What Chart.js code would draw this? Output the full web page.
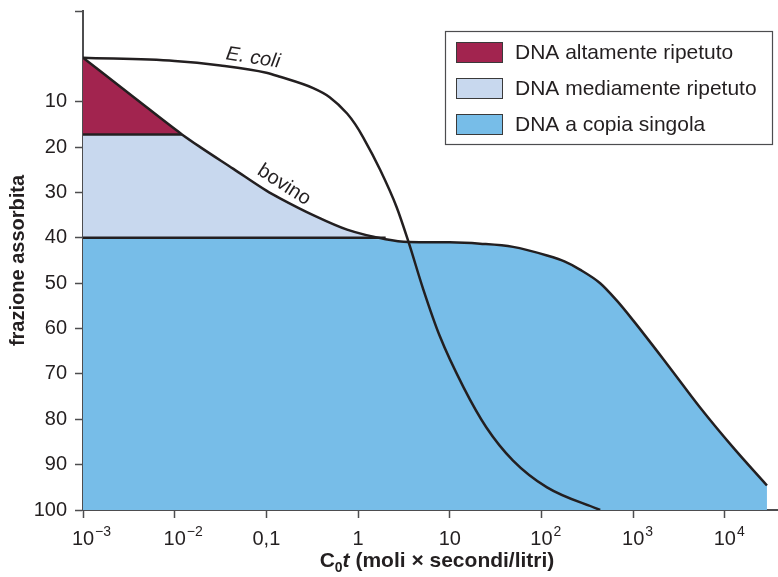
<!DOCTYPE html>
<html>
<head>
<meta charset="utf-8">
<script src="https://cdn.jsdelivr.net/npm/chart.js@4.4.1/dist/chart.umd.min.js"></script>
<style>
  html, body { margin: 0; padding: 0; background: #fff; }
  canvas { display: block; }
</style>
</head>
<body>
<canvas id="chart" width="778" height="577"></canvas>
<script>
// --- data ---
const xTickValues = [0.001, 0.01, 0.1, 1, 10, 100, 1000, 10000];
const xTickLabels = ['10^\u22123', '10^\u22122', '0,1', '1', '10', '10^2', '10^3', '10^4'];
const yTickLabels = [10, 20, 30, 40, 50, 60, 70, 80, 90, 100];

const seriesNames = ['DNA altamente ripetuto', 'DNA mediamente ripetuto', 'DNA a copia singola'];

// bovine curve (C0t, fraction reassociated %)
const bovinoCot = [0.001, 0.00347, 0.012, 0.019, 0.0437, 0.1, 0.141, 0.324, 0.759, 2.0, 3.55, 10, 21.4, 49, 115, 178, 263, 437, 661, 1000, 2340, 5370, 12300, 28800];
const bovinoFraz = [0.3, 8.8, 17.2, 20.0, 24.8, 29.6, 31.3, 35.0, 38.2, 40.3, 40.9, 41.0, 41.3, 42.0, 43.9, 45.2, 47.0, 50.0, 53.8, 58.2, 67.8, 77.4, 86.2, 94.6];

// E. coli curve
const ecoliCot = [0.001, 0.01, 0.0316, 0.1, 0.141, 0.324, 0.49, 0.759, 0.933, 1.14, 1.74, 2.63, 3.55, 5.13, 7.76, 14.1, 25.1, 49, 115, 437];
const ecoliFraz = [0.3, 1.0, 2.0, 3.6, 4.5, 7.0, 9.0, 12.6, 15.0, 17.9, 25.0, 33.2, 40.9, 51.3, 61.6, 72.9, 81.8, 89.1, 95.0, 100];

// boundaries between the three classes
const limiteAlto = 17.2;
const limiteMedio = 40;

// --- styles ---
const ink = '#231f20';
const axisColor = '#4d4d4f';
const fillColors = ['#a2244f', '#c8d8ee', '#77bde8'];
const family = '"Liberation Sans", Arial, Helvetica, sans-serif';

const bovino = bovinoCot.map((c, i) => ({ x: c, y: bovinoFraz[i] }));
const ecoli = ecoliCot.map((c, i) => ({ x: c, y: ecoliFraz[i] }));

const firstAbove = bovino.findIndex(p => p.y >= limiteMedio);
const altoPts = bovino.filter(p => p.y <= limiteAlto);
const medioPts = [{ x: bovinoCot[0], y: limiteAlto }]
  .concat(bovino.filter(p => p.y >= limiteAlto && p.y < limiteMedio))
  .concat([{ x: bovinoCot[firstAbove], y: limiteMedio }]);
const singolaPts = [{ x: bovinoCot[0], y: limiteMedio }].concat(bovino.slice(firstAbove));
const crossAlto = bovino.find(p => p.y >= limiteAlto).x;

const lineStyle = {
  borderColor: ink, borderWidth: 2.5, pointRadius: 0, fill: false,
  cubicInterpolationMode: 'monotone', order: 0
};
const fillStyle = {
  borderWidth: 0, borderColor: 'transparent', pointRadius: 0,
  cubicInterpolationMode: 'monotone'
};

const datasets = [
  { ...fillStyle, label: seriesNames[0], data: altoPts, backgroundColor: fillColors[0], fill: { value: limiteAlto }, order: 3 },
  { ...fillStyle, label: seriesNames[1], data: medioPts, backgroundColor: fillColors[1], fill: { value: limiteMedio }, order: 2 },
  { ...fillStyle, label: seriesNames[2], data: singolaPts, backgroundColor: fillColors[2], fill: { value: 100 }, order: 1 },
  { ...lineStyle, label: 'bovino', data: bovino },
  { ...lineStyle, label: 'E. coli', data: ecoli },
  { ...lineStyle, label: '', data: [{ x: bovinoCot[0], y: limiteAlto }, { x: crossAlto, y: limiteAlto }] },
  { ...lineStyle, label: '', data: [{ x: bovinoCot[0], y: limiteMedio }, { x: bovinoCot[firstAbove], y: limiteMedio }] }
];

const textPlugin = {
  id: 'textPlugin',
  afterDraw(chart) {
    const { ctx, scales: { x, y } } = chart;
    ctx.save();
    ctx.fillStyle = ink;

    // x tick labels with superscripts
    ctx.textAlign = 'left';
    ctx.textBaseline = 'alphabetic';
    const base = x.top + 35;
    xTickValues.forEach((v, i) => {
      const [b, e] = xTickLabels[i].split('^');
      const px = x.getPixelForValue(v);
      ctx.font = '20px ' + family;
      const w = ctx.measureText(b).width;
      ctx.fillText(b, px - w / 2, base);
      if (e) {
        ctx.font = '14px ' + family;
        ctx.fillText(e, px + w / 2 + 1, base - 9);
      }
    });

    // x axis title: C0t (moli × secondi/litri)
    const parts = [
      { t: 'C', f: 'bold 21px ' + family, dy: 0 },
      { t: '0', f: 'bold 14px ' + family, dy: 5 },
      { t: 't', f: 'italic bold 21px ' + family, dy: 0 },
      { t: ' (moli \u00d7 secondi/litri)', f: 'bold 21px ' + family, dy: 0 }
    ];
    let total = 0;
    parts.forEach(p => { ctx.font = p.f; p.w = ctx.measureText(p.t).width; total += p.w; });
    let cx = 437 - total / 2;
    parts.forEach(p => { ctx.font = p.f; ctx.fillText(p.t, cx, 567 + p.dy); cx += p.w; });

    // y axis title
    ctx.save();
    ctx.translate(18, (y.top + y.bottom) / 2);
    ctx.rotate(-Math.PI / 2);
    ctx.textAlign = 'center';
    ctx.textBaseline = 'middle';
    ctx.font = 'bold 20px ' + family;
    ctx.fillText('frazione assorbita', 0, 0);
    ctx.restore();

    // curve labels
    const curveLabel = (txt, px, py, deg, font) => {
      ctx.save();
      ctx.translate(px, py);
      ctx.rotate(deg * Math.PI / 180);
      ctx.textAlign = 'center';
      ctx.textBaseline = 'middle';
      ctx.font = font;
      ctx.fillText(txt, 0, 0);
      ctx.restore();
    };
    curveLabel('E. coli', 253, 58, 9, 'italic 20px ' + family);
    curveLabel('bovino', 284, 185, 33, '20px ' + family);

    // legend box
    const lx = 445.5, ly = 31.5, lw = 327, lh = 113;
    ctx.fillStyle = '#fff';
    ctx.fillRect(lx, ly, lw, lh);
    ctx.strokeStyle = axisColor;
    ctx.lineWidth = 1.2;
    ctx.strokeRect(lx, ly, lw, lh);
    ctx.textAlign = 'left';
    ctx.textBaseline = 'middle';
    ctx.font = '21px ' + family;
    for (let i = 0; i < 3; i++) {
      const top = 42 + i * 36;
      ctx.fillStyle = chart.data.datasets[i].backgroundColor;
      ctx.fillRect(456, top, 47, 21);
      ctx.strokeStyle = '#3a3a3a';
      ctx.lineWidth = 1;
      ctx.strokeRect(456.5, top + 0.5, 46, 20);
      ctx.fillStyle = ink;
      ctx.fillText(chart.data.datasets[i].label, 515, top + 11);
    }
    ctx.restore();
  }
};

new Chart(document.getElementById('chart'), {
  type: 'line',
  data: { datasets },
  options: {
    responsive: false,
    devicePixelRatio: 1,
    animation: false,
    layout: { padding: { top: 11, right: 0, left: 0, bottom: 0 } },
    plugins: { legend: { display: false }, tooltip: { enabled: false } },
    scales: {
      x: {
        type: 'logarithmic',
        min: 0.001,
        max: Math.pow(10, 4.58),
        afterBuildTicks: s => { s.ticks = xTickValues.map(v => ({ value: v })); },
        afterFit: s => { s.height = 67; s.paddingLeft = 0; s.paddingRight = 0; },
        border: { color: axisColor, width: 2 },
        grid: { drawOnChartArea: false, drawTicks: true, tickLength: 8, tickColor: axisColor, tickWidth: 1.5 },
        ticks: { callback: () => '', autoSkip: false, maxRotation: 0 }
      },
      y: {
        type: 'linear',
        reverse: true,
        min: -10,
        max: 100,
        afterBuildTicks: s => { s.ticks = [-10].concat(yTickLabels).map(v => ({ value: v })); },
        afterFit: s => { s.width = 83; s.paddingTop = 0; s.paddingBottom = 0; },
        border: { color: axisColor, width: 2 },
        grid: {
          drawOnChartArea: false, drawTicks: true, tickLength: 8, tickWidth: 1.5,
          tickColor: axisColor
        },
        ticks: {
          padding: 8,
          color: ink,
          font: { size: 20, family: family },
          callback: v => (yTickLabels.includes(v) ? String(v) : '')
        }
      }
    }
  },
  plugins: [textPlugin]
});
</script>
</body>
</html>
